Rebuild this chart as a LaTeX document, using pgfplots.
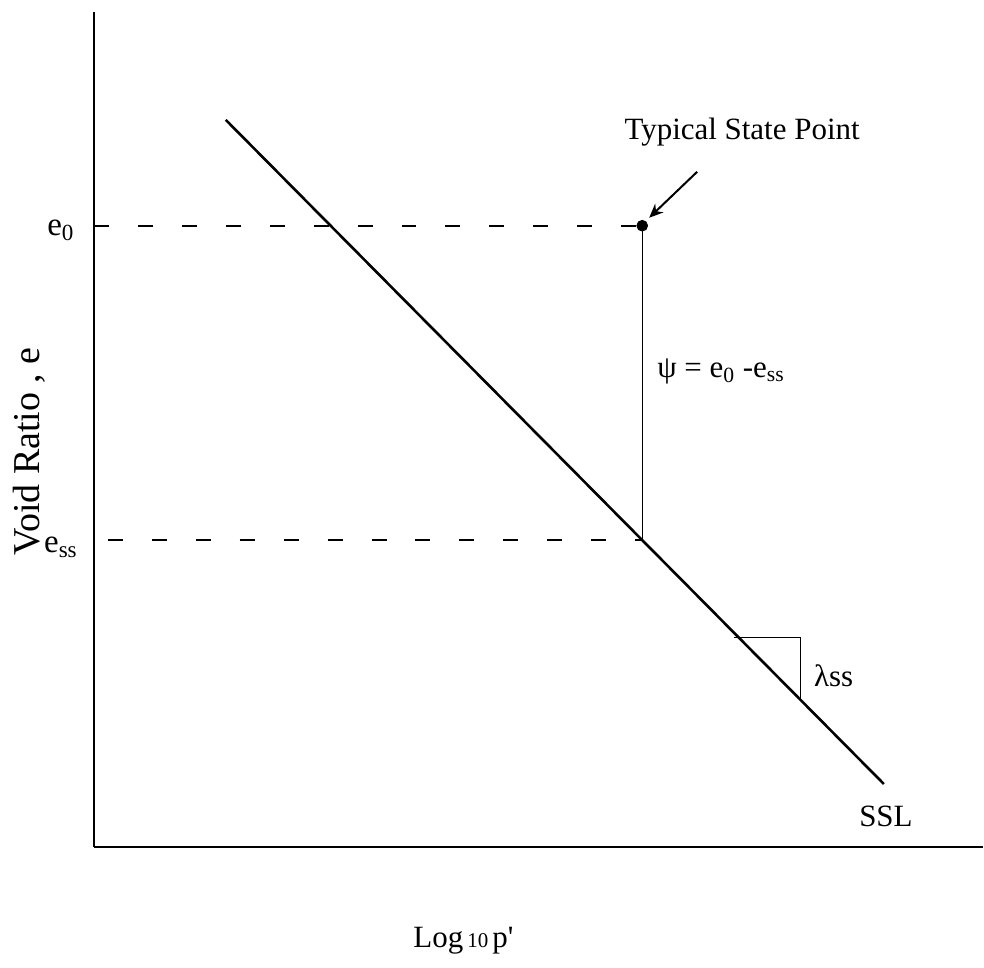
\documentclass[border=0pt]{standalone}
\usepackage{pgfplots}
\pgfplotsset{compat=1.18}
\usepackage{fontspec}
\setmainfont{Liberation Serif}
\usetikzlibrary{arrows.meta}

\tikzset{lbl/.style={font=\fontsize{15.5}{18}\selectfont}}

\begin{document}
\begin{tikzpicture}
\begin{axis}[
    x=0.5pt, y=0.5pt,
    xmin=94, xmax=984,
    ymin=121, ymax=957,
    axis x line=bottom,
    axis y line=left,
    axis line style={-, line width=1.2pt},
    xtick=\empty, ytick=\empty,
    clip=false,
]
% keep the page the size of the reference
\path (axis cs:0,0) rectangle (axis cs:984,969);

% steady state line
\addplot[black, line width=1.3pt] coordinates {(226,849) (885,184)};

% dashed levels e0 and ess
\addplot[black, line width=0.9pt, dash pattern=on 7.5pt off 14.5pt] coordinates {(94,743) (643,743)};
\addplot[black, line width=0.9pt, dash pattern=on 7.5pt off 14.5pt] coordinates {(108,428) (643,428)};

% psi
\addplot[black, line width=0.5pt] coordinates {(643,743) (643,428)};

% slope triangle
\addplot[black, line width=0.5pt] coordinates {(735,331) (801,331) (801,269)};

% state point
\addplot[only marks, mark=*, mark size=2.7pt, black] coordinates {(643,743)};

\draw[-{Stealth[length=7pt,width=6pt]}, line width=1pt] (axis cs:698,797) -- (axis cs:650,751);

\node[lbl] at (axis cs:743,837) {Typical State Point};
\node[lbl, anchor=west] at (axis cs:651,597) {ψ = e\textsubscript{0} -e\textsubscript{ss}};
\node[lbl, anchor=west] at (axis cs:808,292) {λss};
\node[lbl] at (axis cs:887,152) {SSL};
\node[lbl] at (axis cs:464,27) {Log\hspace{2pt}{\fontsize{10.5}{12}\selectfont 10}\hspace{2pt}p\textquotesingle};
\node[font=\fontsize{16.5}{20}\selectfont] at (axis cs:61,738) {e\textsubscript{0}};
\node[font=\fontsize{16.5}{20}\selectfont] at (axis cs:61,421) {e\textsubscript{ss}};
\node[rotate=90, font=\fontsize{19}{22}\selectfont] at (axis cs:29,517) {Void Ratio , e};
\end{axis}
\end{tikzpicture}
\end{document}
